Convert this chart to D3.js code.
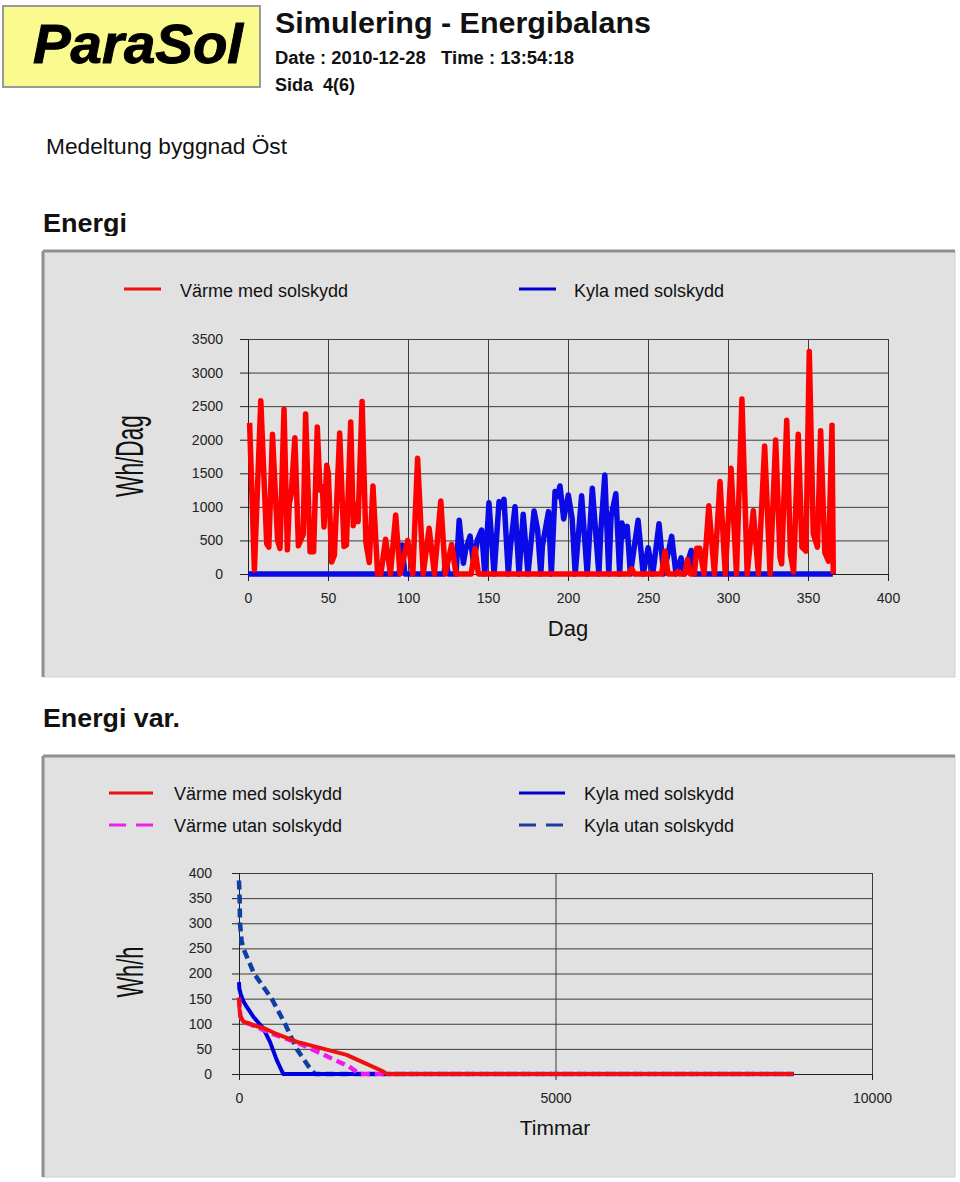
<!DOCTYPE html>
<html>
<head>
<meta charset="utf-8">
<script src="https://cdn.jsdelivr.net/npm/d3@7/dist/d3.min.js"></script>
<style>
  html, body { margin: 0; padding: 0; background: #ffffff; }
  svg { display: block; font-family: "Liberation Sans", Arial, sans-serif; }
</style>
</head>
<body>
<svg id="chart" width="960" height="1182"></svg>
<script>
// ---------- Data: daily energy (Wh/Dag) ----------
const heatDay = [1,4,8,11.7,13,15.3,18.5,20,22.5,24.6,25.8,27,29.3,31.5,34.5,36,38.8,41,43.3,45,46.5,47.5,49.2,50.2,52.3,54,57.3,60,61.5,64.2,65.8,67.9,68.8,71.3,73.7,75.8,78.1,81,83,86,89,92.3,95,99.8,103,106,109.5,113.2,116.5,120.5,123.3,127.3,130,139.5,141.9,144,238,239.8,241.5,258.5,260.6,262.5,267.5,268.6,269.5,273,274.7,276.5,279,280.4,282.3,285,288,291.5,295,298.3,301.9,305.3,308.7,312,315.8,319,322.9,326.3,329.8,332.5,333.5,336.7,339,341,343.9,346.2,348.7,350.8,353.3,355.9,357.9,360.5,362.8,365,365.8];
const heatVal = [2250,60,2580,450,400,2080,500,380,2455,360,1050,1180,2030,420,590,2384,333,333,2190,1250,1300,700,1620,1500,180,280,2100,410,430,2265,720,1040,780,2570,470,170,1311,0,0,517,0,880,0,500,0,1723,0,680,0,1088,0,440,0,0,380,0,0,80,0,0,340,0,0,40,0,0,215,0,0,383,383,0,1015,0,1376,0,1575,0,2605,0,943,0,1907,0,1997,250,150,2290,300,30,2083,400,340,3313,600,400,2135,320,190,2215,0];

const coolDay = [0,94.5,96.3,98,122.5,123.8,125,130,132,134.6,136,138.8,141,143.3,146,148,150.6,153.8,156.9,158.3,160,162.7,164,166.9,169.4,172,175,178.8,181,183,184,187.8,189.6,191.9,193.3,195,197.3,200.2,202.6,204.5,208.5,212,215.2,219.3,220.5,223,225.5,226.9,229.9,232.3,233.7,235.3,237,239,243.8,247,250.1,253,256.9,259.8,264.8,267.5,270.7,272.5,277,278.5,365.5];
const coolVal = [0,0,432,0,0,258,0,0,800,160,357,566,150,500,655,0,1060,0,1078,1000,1113,0,400,1003,0,890,0,938,660,0,420,929,0,1227,1150,1311,820,1177,825,0,1165,0,1277,0,640,1475,0,853,1195,0,760,560,710,0,800,0,390,0,750,0,560,0,240,0,350,0,0];

const topYTicks = [0,500,1000,1500,2000,2500,3000,3500];
const topXTicks = [0,50,100,150,200,250,300,350,400];

// ---------- Data: duration curves (Wh/h vs Timmar) ----------
const heatWithHours = [0,8,20,70,175,280,400,550,920,1400,1700,1980,2280,2330,8760];
const heatWithVals  = [152,130,115,104,100,95,91,82,64,48,38,22,5,0,0];
const heatWithoutHours = [0,10,25,70,175,300,450,595,911,1175,1464,1737,1870,1900,8760];
const heatWithoutVals  = [152,130,113,104,99,92,84,77,63,48,31,15,3,0,0];
const coolWithHours = [0,5,25,68,121,226,321,384,490,595,680,700,8760];
const coolWithVals  = [183,170,160,145,134,114,100,91,64,28,5,0,0];
const coolWithoutHours = [0,10,16,40,68,237,516,727,911,1100,1200,8760];
const coolWithoutVals  = [385,350,300,265,250,200,150,100,50,15,0,0];

const botYTicks = [0,50,100,150,200,250,300,350,400];
const botXTicks = [0,5000,10000];

const legendTop = ["Värme med solskydd", "Kyla med solskydd"];
const legendBottom = ["Värme med solskydd", "Värme utan solskydd", "Kyla med solskydd", "Kyla utan solskydd"];

// ---------- Drawing ----------
const svg = d3.select("#chart");
const FONT = '"Liberation Sans", Arial, sans-serif';

// Header
svg.append("rect").attr("x", 3).attr("y", 6).attr("width", 257).attr("height", 81)
  .attr("fill", "#fbfa8e").attr("stroke", "#9a9a9a").attr("stroke-width", 2);
svg.append("text").attr("x", 138).attr("y", 63).attr("text-anchor", "middle")
  .attr("font-size", 56).attr("font-weight", "bold").attr("font-style", "italic")
  .attr("textLength", 210).attr("lengthAdjust", "spacingAndGlyphs")
  .attr("stroke", "#000").attr("stroke-width", 1)
  .text("ParaSol");
svg.append("text").attr("x", 275).attr("y", 33).attr("font-size", 29).attr("font-weight", "bold")
  .attr("textLength", 376).attr("lengthAdjust", "spacingAndGlyphs").attr("fill", "#111")
  .text("Simulering - Energibalans");
svg.append("text").attr("x", 275).attr("y", 64).attr("font-size", 18).attr("font-weight", "bold")
  .attr("textLength", 299).attr("lengthAdjust", "spacingAndGlyphs").attr("fill", "#111")
  .attr("xml:space", "preserve")
  .text("Date : 2010-12-28   Time : 13:54:18");
svg.append("text").attr("x", 275).attr("y", 91).attr("font-size", 18).attr("font-weight", "bold")
  .attr("textLength", 80).attr("lengthAdjust", "spacingAndGlyphs").attr("fill", "#111")
  .attr("xml:space", "preserve")
  .text("Sida  4(6)");
svg.append("text").attr("x", 46).attr("y", 154).attr("font-size", 22.5)
  .attr("textLength", 241).attr("lengthAdjust", "spacingAndGlyphs").attr("fill", "#111")
  .text("Medeltung byggnad Öst");

// "Energi" heading (clipped at the bottom as in the reference)
svg.append("clipPath").attr("id", "clipEnergi").append("rect")
  .attr("x", 30).attr("y", 200).attr("width", 200).attr("height", 36);
svg.append("text").attr("x", 43).attr("y", 232).attr("font-size", 25).attr("font-weight", "bold")
  .attr("textLength", 84).attr("lengthAdjust", "spacingAndGlyphs").attr("fill", "#111")
  .attr("clip-path", "url(#clipEnergi)")
  .text("Energi");
svg.append("text").attr("x", 43).attr("y", 727).attr("font-size", 25).attr("font-weight", "bold")
  .attr("textLength", 137).attr("lengthAdjust", "spacingAndGlyphs").attr("fill", "#111")
  .text("Energi var.");

function panel(x, y, w, h) {
  svg.append("rect").attr("x", x).attr("y", y).attr("width", w).attr("height", h).attr("fill", "#e1e1e1");
  svg.append("line").attr("x1", x + w).attr("y1", y).attr("x2", x + w).attr("y2", y + h).attr("stroke", "#cfcfcf").attr("stroke-width", 1);
  svg.append("line").attr("x1", x).attr("y1", y + h).attr("x2", x + w).attr("y2", y + h).attr("stroke", "#cfcfcf").attr("stroke-width", 1);
  svg.append("line").attr("x1", x).attr("y1", y).attr("x2", x + w).attr("y2", y).attr("stroke", "#8f8f8f").attr("stroke-width", 3);
  svg.append("line").attr("x1", x).attr("y1", y).attr("x2", x).attr("y2", y + h).attr("stroke", "#8f8f8f").attr("stroke-width", 3);
}
panel(43, 251, 912, 426);
panel(43, 756, 912, 421);

function legendItem(x, y, color, dashed, w) {
  svg.append("line").attr("x1", x).attr("x2", x + w).attr("y1", y).attr("y2", y)
    .attr("stroke", color).attr("stroke-width", 3)
    .attr("stroke-dasharray", dashed ? "17,10" : null);
}

// ---------- Top chart ----------
const xT = d3.scaleLinear().domain([0, 400]).range([248, 888]);
const yT = d3.scaleLinear().domain([0, 3500]).range([574, 339]);

legendItem(124, 289, "#ee1111", false, 37);
svg.append("text").attr("x", 180).attr("y", 297).attr("font-size", 18).attr("fill", "#111").text(legendTop[0]);
legendItem(519, 289, "#0000cc", false, 37);
svg.append("text").attr("x", 574).attr("y", 297).attr("font-size", 18).attr("fill", "#111").text(legendTop[1]);

// grid
const gT = svg.append("g");
gT.append("g").attr("transform", "translate(0,574)")
  .call(d3.axisBottom(xT).tickValues(topXTicks).tickSize(-(574 - 339)).tickFormat(""))
  .call(g => g.select(".domain").remove())
  .call(g => g.selectAll("line").attr("stroke", "#3c3c3c").attr("stroke-width", 1));
gT.append("g").attr("transform", "translate(248,0)")
  .call(d3.axisLeft(yT).tickValues(topYTicks).tickSize(-(888 - 248)).tickFormat(""))
  .call(g => g.select(".domain").remove())
  .call(g => g.selectAll("line").attr("stroke", "#3c3c3c").attr("stroke-width", 1));
// axes with labels
gT.append("g").attr("transform", "translate(248,0)")
  .call(d3.axisLeft(yT).tickValues(topYTicks).tickSize(8).tickPadding(17).tickFormat(d3.format("d")))
  .call(g => g.select(".domain").attr("stroke", "#222"))
  .call(g => g.selectAll("line").attr("stroke", "#222"))
  .call(g => g.selectAll("text").attr("font-size", 14).attr("font-family", FONT).attr("fill", "#222"));
gT.append("g").attr("transform", "translate(0,574)")
  .call(d3.axisBottom(xT).tickValues(topXTicks).tickSize(7).tickPadding(12).tickFormat(d3.format("d")))
  .call(g => g.select(".domain").attr("stroke", "#222"))
  .call(g => g.selectAll("line").attr("stroke", "#222"))
  .call(g => g.selectAll("text").attr("font-size", 14).attr("font-family", FONT).attr("fill", "#222"));

const lineT = d3.line().x(d => xT(d[0])).y(d => yT(d[1]));
const coolData = coolDay.map((d, i) => [d, coolVal[i]]);
const heatData = heatDay.map((d, i) => [d, heatVal[i]]);
svg.append("path").attr("d", lineT(coolData)).attr("fill", "none")
  .attr("stroke", "#0a0ae6").attr("stroke-width", 5.5).attr("stroke-linejoin", "round");
svg.append("path").attr("d", lineT(heatData)).attr("fill", "none")
  .attr("stroke", "#ff0000").attr("stroke-width", 5.5).attr("stroke-linejoin", "round");

svg.append("text").attr("x", 568).attr("y", 636).attr("text-anchor", "middle").attr("font-size", 22).attr("fill", "#111").text("Dag");
svg.append("text").attr("transform", "translate(143,456) rotate(-90)").attr("text-anchor", "middle")
  .attr("font-size", 39).attr("textLength", 82).attr("lengthAdjust", "spacingAndGlyphs").attr("fill", "#111").text("Wh/Dag");

// ---------- Bottom chart ----------
const xB = d3.scaleLinear().domain([0, 10000]).range([239, 872]);
const yB = d3.scaleLinear().domain([0, 400]).range([1074, 873]);

legendItem(109, 793, "#ee1111", false, 44);
svg.append("text").attr("x", 174).attr("y", 800).attr("font-size", 18).attr("fill", "#111").text(legendBottom[0]);
legendItem(109, 825, "#ee22ee", true, 44);
svg.append("text").attr("x", 174).attr("y", 832).attr("font-size", 18).attr("fill", "#111").text(legendBottom[1]);
legendItem(519, 793, "#0000cc", false, 46);
svg.append("text").attr("x", 584).attr("y", 800).attr("font-size", 18).attr("fill", "#111").text(legendBottom[2]);
legendItem(519, 825, "#1a3f9e", true, 46);
svg.append("text").attr("x", 584).attr("y", 832).attr("font-size", 18).attr("fill", "#111").text(legendBottom[3]);

const gB = svg.append("g");
gB.append("g").attr("transform", "translate(0,1074)")
  .call(d3.axisBottom(xB).tickValues(botXTicks).tickSize(-(1074 - 873)).tickFormat(""))
  .call(g => g.select(".domain").remove())
  .call(g => g.selectAll("line").attr("stroke", "#3c3c3c").attr("stroke-width", 1));
gB.append("g").attr("transform", "translate(239,0)")
  .call(d3.axisLeft(yB).tickValues(botYTicks).tickSize(-(872 - 239)).tickFormat(""))
  .call(g => g.select(".domain").remove())
  .call(g => g.selectAll("line").attr("stroke", "#3c3c3c").attr("stroke-width", 1));
gB.append("g").attr("transform", "translate(239,0)")
  .call(d3.axisLeft(yB).tickValues(botYTicks).tickSize(7).tickPadding(20).tickFormat(d3.format("d")))
  .call(g => g.select(".domain").attr("stroke", "#222"))
  .call(g => g.selectAll("line").attr("stroke", "#222"))
  .call(g => g.selectAll("text").attr("font-size", 14).attr("font-family", FONT).attr("fill", "#222"));
gB.append("g").attr("transform", "translate(0,1074)")
  .call(d3.axisBottom(xB).tickValues(botXTicks).tickSize(6).tickPadding(13).tickFormat(d3.format("d")))
  .call(g => g.select(".domain").attr("stroke", "#222"))
  .call(g => g.selectAll("line").attr("stroke", "#222"))
  .call(g => g.selectAll("text").attr("font-size", 14).attr("font-family", FONT).attr("fill", "#222"));

const lineB = d3.line().x(d => xB(d[0])).y(d => yB(d[1]));
function curve(hours, vals, color, width, dash) {
  svg.append("path").attr("d", lineB(hours.map((h, i) => [h, vals[i]]))).attr("fill", "none")
    .attr("stroke", color).attr("stroke-width", width).attr("stroke-dasharray", dash)
    .attr("stroke-linejoin", "round");
}
curve(coolWithoutHours, coolWithoutVals, "#0d3fa6", 4.5, "9,5");
curve(coolWithHours, coolWithVals, "#0000dd", 4, null);
curve(heatWithoutHours, heatWithoutVals, "#f01af0", 4.5, "9,5");
curve(heatWithHours, heatWithVals, "#ee1111", 4, null);

svg.append("text").attr("x", 555).attr("y", 1135).attr("text-anchor", "middle").attr("font-size", 21).attr("fill", "#111").text("Timmar");
svg.append("text").attr("transform", "translate(143,972) rotate(-90)").attr("text-anchor", "middle")
  .attr("font-size", 36).attr("textLength", 51).attr("lengthAdjust", "spacingAndGlyphs").attr("fill", "#111").text("Wh/h");
</script>
</body>
</html>
